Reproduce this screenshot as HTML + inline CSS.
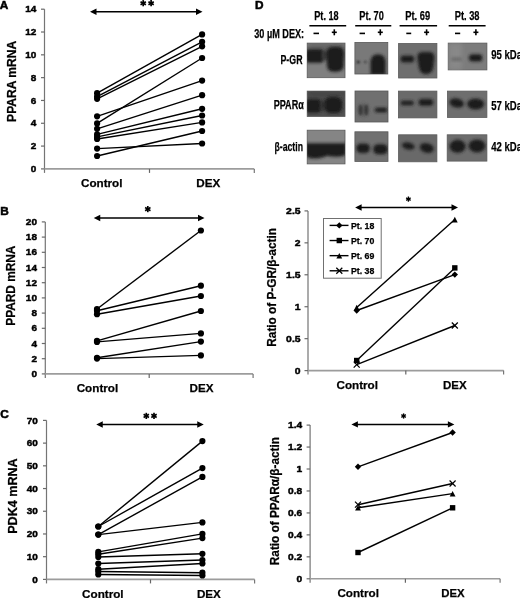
<!DOCTYPE html>
<html><head><meta charset="utf-8"><style>
html,body{margin:0;padding:0;background:#fff;}
svg{display:block;}
text{font-family:"Liberation Sans", sans-serif;fill:#000;stroke:#000;stroke-width:0.25px;}
</style></head><body>
<svg width="520" height="598" viewBox="0 0 520 598">
<defs><filter id="bl" x="-50%" y="-50%" width="200%" height="200%"><feGaussianBlur stdDeviation="1.5"/></filter><filter id="bl1" x="-50%" y="-50%" width="200%" height="200%"><feGaussianBlur stdDeviation="0.8"/></filter><filter id="bl2" x="-50%" y="-50%" width="200%" height="200%"><feGaussianBlur stdDeviation="2.5"/></filter><filter id="gb" x="0" y="0" width="100%" height="100%"><feGaussianBlur stdDeviation="0.45"/></filter></defs>
<rect width="520" height="598" fill="#fff"/>
<g filter="url(#gb)">
<text x="-0.3" y="9.0" font-size="11.8" font-weight="bold" text-anchor="start" style="stroke-width:0.55px">A</text>
<line x1="44.5" y1="9.2" x2="44.5" y2="172.9" stroke="#747474" stroke-width="1.2" />
<line x1="41.0" y1="168.9" x2="44.5" y2="168.9" stroke="#6a6a6a" stroke-width="1.2" />
<text x="36.4" y="172.0" font-size="9.5" font-weight="bold" text-anchor="end" textLength="5.56" lengthAdjust="spacingAndGlyphs" style="stroke-width:0.45px">0</text>
<line x1="41.0" y1="146.0857142857143" x2="44.5" y2="146.0857142857143" stroke="#6a6a6a" stroke-width="1.2" />
<text x="36.4" y="149.19" font-size="9.5" font-weight="bold" text-anchor="end" textLength="5.56" lengthAdjust="spacingAndGlyphs" style="stroke-width:0.45px">2</text>
<line x1="41.0" y1="123.27142857142857" x2="44.5" y2="123.27142857142857" stroke="#6a6a6a" stroke-width="1.2" />
<text x="36.4" y="126.37" font-size="9.5" font-weight="bold" text-anchor="end" textLength="5.56" lengthAdjust="spacingAndGlyphs" style="stroke-width:0.45px">4</text>
<line x1="41.0" y1="100.45714285714286" x2="44.5" y2="100.45714285714286" stroke="#6a6a6a" stroke-width="1.2" />
<text x="36.4" y="103.56" font-size="9.5" font-weight="bold" text-anchor="end" textLength="5.56" lengthAdjust="spacingAndGlyphs" style="stroke-width:0.45px">6</text>
<line x1="41.0" y1="77.64285714285714" x2="44.5" y2="77.64285714285714" stroke="#6a6a6a" stroke-width="1.2" />
<text x="36.4" y="80.74" font-size="9.5" font-weight="bold" text-anchor="end" textLength="5.56" lengthAdjust="spacingAndGlyphs" style="stroke-width:0.45px">8</text>
<line x1="41.0" y1="54.82857142857142" x2="44.5" y2="54.82857142857142" stroke="#6a6a6a" stroke-width="1.2" />
<text x="36.4" y="57.93" font-size="9.5" font-weight="bold" text-anchor="end" textLength="11.12" lengthAdjust="spacingAndGlyphs" style="stroke-width:0.45px">10</text>
<line x1="41.0" y1="32.014285714285705" x2="44.5" y2="32.014285714285705" stroke="#6a6a6a" stroke-width="1.2" />
<text x="36.4" y="35.11" font-size="9.5" font-weight="bold" text-anchor="end" textLength="11.12" lengthAdjust="spacingAndGlyphs" style="stroke-width:0.45px">12</text>
<line x1="41.0" y1="9.199999999999989" x2="44.5" y2="9.199999999999989" stroke="#6a6a6a" stroke-width="1.2" />
<text x="36.4" y="12.3" font-size="9.5" font-weight="bold" text-anchor="end" textLength="11.12" lengthAdjust="spacingAndGlyphs" style="stroke-width:0.45px">14</text>
<line x1="44.5" y1="168.9" x2="254.3" y2="168.9" stroke="#9c9c9c" stroke-width="1.6" />
<line x1="149.5" y1="168.9" x2="149.5" y2="172.9" stroke="#666" stroke-width="1.2" />
<line x1="254.3" y1="168.9" x2="254.3" y2="172.9" stroke="#777" stroke-width="1.2" />
<text transform="translate(16.3,81.4) rotate(-90)" x="0" y="0" font-size="12" font-weight="bold" text-anchor="middle" textLength="81" lengthAdjust="spacingAndGlyphs">PPARA mRNA</text>
<text x="81" y="186.6" font-size="11.8" font-weight="bold" text-anchor="start" textLength="41.5" lengthAdjust="spacingAndGlyphs" >Control</text>
<text x="196.3" y="187" font-size="11.8" font-weight="bold" text-anchor="start" textLength="24" lengthAdjust="spacingAndGlyphs" >DEX</text>
<line x1="95.5" y1="11.75" x2="197.0" y2="11.75" stroke="#000" stroke-width="1.5" />
<path d="M90,11.75 L96.5,8.55 L96.5,14.95 Z" fill="#000"/>
<path d="M202.5,11.75 L196.0,8.55 L196.0,14.95 Z" fill="#000"/>
<line x1="143.2" y1="0.1" x2="143.2" y2="6.3" stroke="#000" stroke-width="1.7" />
<line x1="140.52" y1="1.65" x2="145.88" y2="4.75" stroke="#000" stroke-width="1.7" />
<line x1="140.52" y1="4.75" x2="145.88" y2="1.65" stroke="#000" stroke-width="1.7" />
<line x1="151.1" y1="0.1" x2="151.1" y2="6.3" stroke="#000" stroke-width="1.7" />
<line x1="148.42" y1="1.65" x2="153.78" y2="4.75" stroke="#000" stroke-width="1.7" />
<line x1="148.42" y1="4.75" x2="153.78" y2="1.65" stroke="#000" stroke-width="1.7" />
<line x1="97.1" y1="93.2" x2="202.1" y2="34.4" stroke="#000" stroke-width="1.4" />
<line x1="97.1" y1="96.6" x2="202.1" y2="41.8" stroke="#000" stroke-width="1.4" />
<line x1="97.1" y1="98.8" x2="202.1" y2="46.3" stroke="#000" stroke-width="1.4" />
<line x1="97.1" y1="116.3" x2="202.1" y2="80.6" stroke="#000" stroke-width="1.4" />
<line x1="97.1" y1="123.4" x2="202.1" y2="58.0" stroke="#000" stroke-width="1.4" />
<line x1="97.1" y1="128.8" x2="202.1" y2="95.2" stroke="#000" stroke-width="1.4" />
<line x1="97.1" y1="134.4" x2="202.1" y2="108.8" stroke="#000" stroke-width="1.4" />
<line x1="97.1" y1="136.9" x2="202.1" y2="115.5" stroke="#000" stroke-width="1.4" />
<line x1="97.1" y1="139" x2="202.1" y2="122.4" stroke="#000" stroke-width="1.4" />
<line x1="97.1" y1="148.6" x2="202.1" y2="143.5" stroke="#000" stroke-width="1.4" />
<line x1="97.1" y1="156" x2="202.1" y2="131" stroke="#000" stroke-width="1.4" />
<circle cx="97.1" cy="93.2" r="3.1" fill="#000"/>
<circle cx="202.1" cy="34.4" r="3.1" fill="#000"/>
<circle cx="97.1" cy="96.6" r="3.1" fill="#000"/>
<circle cx="202.1" cy="41.8" r="3.1" fill="#000"/>
<circle cx="97.1" cy="98.8" r="3.1" fill="#000"/>
<circle cx="202.1" cy="46.3" r="3.1" fill="#000"/>
<circle cx="97.1" cy="116.3" r="3.1" fill="#000"/>
<circle cx="202.1" cy="80.6" r="3.1" fill="#000"/>
<circle cx="97.1" cy="123.4" r="3.1" fill="#000"/>
<circle cx="202.1" cy="58.0" r="3.1" fill="#000"/>
<circle cx="97.1" cy="128.8" r="3.1" fill="#000"/>
<circle cx="202.1" cy="95.2" r="3.1" fill="#000"/>
<circle cx="97.1" cy="134.4" r="3.1" fill="#000"/>
<circle cx="202.1" cy="108.8" r="3.1" fill="#000"/>
<circle cx="97.1" cy="136.9" r="3.1" fill="#000"/>
<circle cx="202.1" cy="115.5" r="3.1" fill="#000"/>
<circle cx="97.1" cy="139" r="3.1" fill="#000"/>
<circle cx="202.1" cy="122.4" r="3.1" fill="#000"/>
<circle cx="97.1" cy="148.6" r="3.1" fill="#000"/>
<circle cx="202.1" cy="143.5" r="3.1" fill="#000"/>
<circle cx="97.1" cy="156" r="3.1" fill="#000"/>
<circle cx="202.1" cy="131" r="3.1" fill="#000"/>
<text x="0.2" y="214.6" font-size="11.8" font-weight="bold" text-anchor="start" style="stroke-width:0.55px">B</text>
<line x1="45.3" y1="221.9" x2="45.3" y2="377.9" stroke="#747474" stroke-width="1.2" />
<line x1="41.8" y1="373.9" x2="45.3" y2="373.9" stroke="#6a6a6a" stroke-width="1.2" />
<text x="37.0" y="377.0" font-size="9.5" font-weight="bold" text-anchor="end" textLength="5.56" lengthAdjust="spacingAndGlyphs" style="stroke-width:0.45px">0</text>
<line x1="41.8" y1="358.7" x2="45.3" y2="358.7" stroke="#6a6a6a" stroke-width="1.2" />
<text x="37.0" y="361.8" font-size="9.5" font-weight="bold" text-anchor="end" textLength="5.56" lengthAdjust="spacingAndGlyphs" style="stroke-width:0.45px">2</text>
<line x1="41.8" y1="343.5" x2="45.3" y2="343.5" stroke="#6a6a6a" stroke-width="1.2" />
<text x="37.0" y="346.6" font-size="9.5" font-weight="bold" text-anchor="end" textLength="5.56" lengthAdjust="spacingAndGlyphs" style="stroke-width:0.45px">4</text>
<line x1="41.8" y1="328.29999999999995" x2="45.3" y2="328.29999999999995" stroke="#6a6a6a" stroke-width="1.2" />
<text x="37.0" y="331.4" font-size="9.5" font-weight="bold" text-anchor="end" textLength="5.56" lengthAdjust="spacingAndGlyphs" style="stroke-width:0.45px">6</text>
<line x1="41.8" y1="313.09999999999997" x2="45.3" y2="313.09999999999997" stroke="#6a6a6a" stroke-width="1.2" />
<text x="37.0" y="316.2" font-size="9.5" font-weight="bold" text-anchor="end" textLength="5.56" lengthAdjust="spacingAndGlyphs" style="stroke-width:0.45px">8</text>
<line x1="41.8" y1="297.9" x2="45.3" y2="297.9" stroke="#6a6a6a" stroke-width="1.2" />
<text x="37.0" y="301.0" font-size="9.5" font-weight="bold" text-anchor="end" textLength="11.12" lengthAdjust="spacingAndGlyphs" style="stroke-width:0.45px">10</text>
<line x1="41.8" y1="282.7" x2="45.3" y2="282.7" stroke="#6a6a6a" stroke-width="1.2" />
<text x="37.0" y="285.8" font-size="9.5" font-weight="bold" text-anchor="end" textLength="11.12" lengthAdjust="spacingAndGlyphs" style="stroke-width:0.45px">12</text>
<line x1="41.8" y1="267.5" x2="45.3" y2="267.5" stroke="#6a6a6a" stroke-width="1.2" />
<text x="37.0" y="270.6" font-size="9.5" font-weight="bold" text-anchor="end" textLength="11.12" lengthAdjust="spacingAndGlyphs" style="stroke-width:0.45px">14</text>
<line x1="41.8" y1="252.3" x2="45.3" y2="252.3" stroke="#6a6a6a" stroke-width="1.2" />
<text x="37.0" y="255.4" font-size="9.5" font-weight="bold" text-anchor="end" textLength="11.12" lengthAdjust="spacingAndGlyphs" style="stroke-width:0.45px">16</text>
<line x1="41.8" y1="237.1" x2="45.3" y2="237.1" stroke="#6a6a6a" stroke-width="1.2" />
<text x="37.0" y="240.2" font-size="9.5" font-weight="bold" text-anchor="end" textLength="11.12" lengthAdjust="spacingAndGlyphs" style="stroke-width:0.45px">18</text>
<line x1="41.8" y1="221.9" x2="45.3" y2="221.9" stroke="#6a6a6a" stroke-width="1.2" />
<text x="37.0" y="225.0" font-size="9.5" font-weight="bold" text-anchor="end" textLength="11.12" lengthAdjust="spacingAndGlyphs" style="stroke-width:0.45px">20</text>
<line x1="45.3" y1="373.9" x2="253.1" y2="373.9" stroke="#9c9c9c" stroke-width="1.6" />
<line x1="149.2" y1="373.9" x2="149.2" y2="377.9" stroke="#666" stroke-width="1.2" />
<line x1="253.1" y1="373.9" x2="253.1" y2="377.9" stroke="#777" stroke-width="1.2" />
<text transform="translate(15.2,285.7) rotate(-90)" x="0" y="0" font-size="12" font-weight="bold" text-anchor="middle" textLength="80" lengthAdjust="spacingAndGlyphs">PPARD mRNA</text>
<text x="76.7" y="392.1" font-size="11.8" font-weight="bold" text-anchor="start" textLength="41.5" lengthAdjust="spacingAndGlyphs" >Control</text>
<text x="189.5" y="392.3" font-size="11.8" font-weight="bold" text-anchor="start" textLength="24" lengthAdjust="spacingAndGlyphs" >DEX</text>
<line x1="99.25" y1="218" x2="199.0" y2="218" stroke="#000" stroke-width="1.5" />
<path d="M93.75,218 L100.25,214.8 L100.25,221.2 Z" fill="#000"/>
<path d="M204.5,218 L198.0,214.8 L198.0,221.2 Z" fill="#000"/>
<line x1="147.8" y1="206.0" x2="147.8" y2="212.2" stroke="#000" stroke-width="1.7" />
<line x1="145.12" y1="207.55" x2="150.48" y2="210.65" stroke="#000" stroke-width="1.7" />
<line x1="145.12" y1="210.65" x2="150.48" y2="207.55" stroke="#000" stroke-width="1.7" />
<line x1="97.0" y1="309.0" x2="200.9" y2="230.5" stroke="#000" stroke-width="1.4" />
<line x1="97.0" y1="310.8" x2="200.9" y2="285.7" stroke="#000" stroke-width="1.4" />
<line x1="97.0" y1="314.2" x2="200.9" y2="296" stroke="#000" stroke-width="1.4" />
<line x1="97.0" y1="340.8" x2="200.9" y2="311" stroke="#000" stroke-width="1.4" />
<line x1="97.0" y1="341.9" x2="200.9" y2="333.4" stroke="#000" stroke-width="1.4" />
<line x1="97.0" y1="357.8" x2="200.9" y2="341.6" stroke="#000" stroke-width="1.4" />
<line x1="97.0" y1="358.6" x2="200.9" y2="355.4" stroke="#000" stroke-width="1.4" />
<circle cx="97.0" cy="309.0" r="3.1" fill="#000"/>
<circle cx="200.9" cy="230.5" r="3.1" fill="#000"/>
<circle cx="97.0" cy="310.8" r="3.1" fill="#000"/>
<circle cx="200.9" cy="285.7" r="3.1" fill="#000"/>
<circle cx="97.0" cy="314.2" r="3.1" fill="#000"/>
<circle cx="200.9" cy="296" r="3.1" fill="#000"/>
<circle cx="97.0" cy="340.8" r="3.1" fill="#000"/>
<circle cx="200.9" cy="311" r="3.1" fill="#000"/>
<circle cx="97.0" cy="341.9" r="3.1" fill="#000"/>
<circle cx="200.9" cy="333.4" r="3.1" fill="#000"/>
<circle cx="97.0" cy="357.8" r="3.1" fill="#000"/>
<circle cx="200.9" cy="341.6" r="3.1" fill="#000"/>
<circle cx="97.0" cy="358.6" r="3.1" fill="#000"/>
<circle cx="200.9" cy="355.4" r="3.1" fill="#000"/>
<text x="0.2" y="417.8" font-size="11.8" font-weight="bold" text-anchor="start" style="stroke-width:0.55px">C</text>
<line x1="46.5" y1="420.4" x2="46.5" y2="583.4" stroke="#747474" stroke-width="1.2" />
<line x1="43.0" y1="579.4" x2="46.5" y2="579.4" stroke="#6a6a6a" stroke-width="1.2" />
<text x="37.8" y="582.5" font-size="9.5" font-weight="bold" text-anchor="end" textLength="5.56" lengthAdjust="spacingAndGlyphs" style="stroke-width:0.45px">0</text>
<line x1="43.0" y1="556.6857142857143" x2="46.5" y2="556.6857142857143" stroke="#6a6a6a" stroke-width="1.2" />
<text x="37.8" y="559.79" font-size="9.5" font-weight="bold" text-anchor="end" textLength="11.12" lengthAdjust="spacingAndGlyphs" style="stroke-width:0.45px">10</text>
<line x1="43.0" y1="533.9714285714285" x2="46.5" y2="533.9714285714285" stroke="#6a6a6a" stroke-width="1.2" />
<text x="37.8" y="537.07" font-size="9.5" font-weight="bold" text-anchor="end" textLength="11.12" lengthAdjust="spacingAndGlyphs" style="stroke-width:0.45px">20</text>
<line x1="43.0" y1="511.25714285714287" x2="46.5" y2="511.25714285714287" stroke="#6a6a6a" stroke-width="1.2" />
<text x="37.8" y="514.36" font-size="9.5" font-weight="bold" text-anchor="end" textLength="11.12" lengthAdjust="spacingAndGlyphs" style="stroke-width:0.45px">30</text>
<line x1="43.0" y1="488.5428571428571" x2="46.5" y2="488.5428571428571" stroke="#6a6a6a" stroke-width="1.2" />
<text x="37.8" y="491.64" font-size="9.5" font-weight="bold" text-anchor="end" textLength="11.12" lengthAdjust="spacingAndGlyphs" style="stroke-width:0.45px">40</text>
<line x1="43.0" y1="465.8285714285714" x2="46.5" y2="465.8285714285714" stroke="#6a6a6a" stroke-width="1.2" />
<text x="37.8" y="468.93" font-size="9.5" font-weight="bold" text-anchor="end" textLength="11.12" lengthAdjust="spacingAndGlyphs" style="stroke-width:0.45px">50</text>
<line x1="43.0" y1="443.1142857142857" x2="46.5" y2="443.1142857142857" stroke="#6a6a6a" stroke-width="1.2" />
<text x="37.8" y="446.21" font-size="9.5" font-weight="bold" text-anchor="end" textLength="11.12" lengthAdjust="spacingAndGlyphs" style="stroke-width:0.45px">60</text>
<line x1="43.0" y1="420.4" x2="46.5" y2="420.4" stroke="#6a6a6a" stroke-width="1.2" />
<text x="37.8" y="423.5" font-size="9.5" font-weight="bold" text-anchor="end" textLength="11.12" lengthAdjust="spacingAndGlyphs" style="stroke-width:0.45px">70</text>
<line x1="46.5" y1="579.4" x2="254.6" y2="579.4" stroke="#9c9c9c" stroke-width="1.6" />
<line x1="150.5" y1="579.4" x2="150.5" y2="583.4" stroke="#666" stroke-width="1.2" />
<line x1="254.6" y1="579.4" x2="254.6" y2="583.4" stroke="#777" stroke-width="1.2" />
<text transform="translate(17.0,496.1) rotate(-90)" x="0" y="0" font-size="12" font-weight="bold" text-anchor="middle" textLength="75.4" lengthAdjust="spacingAndGlyphs">PDK4 mRNA</text>
<text x="82.1" y="598" font-size="11.8" font-weight="bold" text-anchor="start" textLength="41.5" lengthAdjust="spacingAndGlyphs" >Control</text>
<text x="196.9" y="598" font-size="11.8" font-weight="bold" text-anchor="start" textLength="24" lengthAdjust="spacingAndGlyphs" >DEX</text>
<line x1="101.75" y1="424.5" x2="198.25" y2="424.5" stroke="#000" stroke-width="1.5" />
<path d="M96.25,424.5 L102.75,421.3 L102.75,427.7 Z" fill="#000"/>
<path d="M203.75,424.5 L197.25,421.3 L197.25,427.7 Z" fill="#000"/>
<line x1="146.3" y1="412.8" x2="146.3" y2="419.0" stroke="#000" stroke-width="1.7" />
<line x1="143.62" y1="414.35" x2="148.98" y2="417.45" stroke="#000" stroke-width="1.7" />
<line x1="143.62" y1="417.45" x2="148.98" y2="414.35" stroke="#000" stroke-width="1.7" />
<line x1="154.0" y1="412.8" x2="154.0" y2="419.0" stroke="#000" stroke-width="1.7" />
<line x1="151.32" y1="414.35" x2="156.68" y2="417.45" stroke="#000" stroke-width="1.7" />
<line x1="151.32" y1="417.45" x2="156.68" y2="414.35" stroke="#000" stroke-width="1.7" />
<line x1="98.3" y1="526.5" x2="202.4" y2="441.1" stroke="#000" stroke-width="1.4" />
<line x1="98.3" y1="526.5" x2="202.4" y2="468.1" stroke="#000" stroke-width="1.4" />
<line x1="98.3" y1="534.6" x2="202.4" y2="476.9" stroke="#000" stroke-width="1.4" />
<line x1="98.3" y1="534.6" x2="202.4" y2="522.4" stroke="#000" stroke-width="1.4" />
<line x1="98.3" y1="551.9" x2="202.4" y2="533.9" stroke="#000" stroke-width="1.4" />
<line x1="98.3" y1="554.2" x2="202.4" y2="538.1" stroke="#000" stroke-width="1.4" />
<line x1="98.3" y1="557" x2="202.4" y2="553.8" stroke="#000" stroke-width="1.4" />
<line x1="98.3" y1="563.5" x2="202.4" y2="560" stroke="#000" stroke-width="1.4" />
<line x1="98.3" y1="569.2" x2="202.4" y2="563.5" stroke="#000" stroke-width="1.4" />
<line x1="98.3" y1="571.5" x2="202.4" y2="572.7" stroke="#000" stroke-width="1.4" />
<line x1="98.3" y1="574.5" x2="202.4" y2="575.5" stroke="#000" stroke-width="1.4" />
<circle cx="98.3" cy="526.5" r="3.1" fill="#000"/>
<circle cx="202.4" cy="441.1" r="3.1" fill="#000"/>
<circle cx="98.3" cy="526.5" r="3.1" fill="#000"/>
<circle cx="202.4" cy="468.1" r="3.1" fill="#000"/>
<circle cx="98.3" cy="534.6" r="3.1" fill="#000"/>
<circle cx="202.4" cy="476.9" r="3.1" fill="#000"/>
<circle cx="98.3" cy="534.6" r="3.1" fill="#000"/>
<circle cx="202.4" cy="522.4" r="3.1" fill="#000"/>
<circle cx="98.3" cy="551.9" r="3.1" fill="#000"/>
<circle cx="202.4" cy="533.9" r="3.1" fill="#000"/>
<circle cx="98.3" cy="554.2" r="3.1" fill="#000"/>
<circle cx="202.4" cy="538.1" r="3.1" fill="#000"/>
<circle cx="98.3" cy="557" r="3.1" fill="#000"/>
<circle cx="202.4" cy="553.8" r="3.1" fill="#000"/>
<circle cx="98.3" cy="563.5" r="3.1" fill="#000"/>
<circle cx="202.4" cy="560" r="3.1" fill="#000"/>
<circle cx="98.3" cy="569.2" r="3.1" fill="#000"/>
<circle cx="202.4" cy="563.5" r="3.1" fill="#000"/>
<circle cx="98.3" cy="571.5" r="3.1" fill="#000"/>
<circle cx="202.4" cy="572.7" r="3.1" fill="#000"/>
<circle cx="98.3" cy="574.5" r="3.1" fill="#000"/>
<circle cx="202.4" cy="575.5" r="3.1" fill="#000"/>
<text x="255.0" y="9.4" font-size="11.8" font-weight="bold" text-anchor="start" style="stroke-width:0.55px">D</text>
<text x="254.3" y="37.6" font-size="12.9" font-weight="bold" text-anchor="start" textLength="49.8" lengthAdjust="spacingAndGlyphs" >30 µM DEX:</text>
<text x="314.3" y="20.3" font-size="13.5" font-weight="bold" text-anchor="start" textLength="24.3" lengthAdjust="spacingAndGlyphs" >Pt. 18</text>
<line x1="309.4" y1="25.7" x2="346.2" y2="25.7" stroke="#000" stroke-width="1.6" />
<line x1="313.5" y1="33.4" x2="319" y2="33.4" stroke="#000" stroke-width="1.6" />
<line x1="331.8" y1="32.3" x2="336.8" y2="32.3" stroke="#000" stroke-width="1.6" />
<line x1="334.3" y1="29.3" x2="334.3" y2="35.3" stroke="#000" stroke-width="1.6" />
<text x="359.3" y="20.3" font-size="13.5" font-weight="bold" text-anchor="start" textLength="24.5" lengthAdjust="spacingAndGlyphs" >Pt. 70</text>
<line x1="355.2" y1="25.7" x2="391.3" y2="25.7" stroke="#000" stroke-width="1.6" />
<line x1="359.6" y1="33.4" x2="365" y2="33.4" stroke="#000" stroke-width="1.6" />
<line x1="377.8" y1="32.3" x2="382.8" y2="32.3" stroke="#000" stroke-width="1.6" />
<line x1="380.3" y1="29.3" x2="380.3" y2="35.3" stroke="#000" stroke-width="1.6" />
<text x="405.3" y="20.3" font-size="13.5" font-weight="bold" text-anchor="start" textLength="24.8" lengthAdjust="spacingAndGlyphs" >Pt. 69</text>
<line x1="399.6" y1="25.7" x2="437.1" y2="25.7" stroke="#000" stroke-width="1.6" />
<line x1="406.3" y1="33.4" x2="411.2" y2="33.4" stroke="#000" stroke-width="1.6" />
<line x1="424.1" y1="32.3" x2="429.1" y2="32.3" stroke="#000" stroke-width="1.6" />
<line x1="426.6" y1="29.3" x2="426.6" y2="35.3" stroke="#000" stroke-width="1.6" />
<text x="454.7" y="20.3" font-size="13.5" font-weight="bold" text-anchor="start" textLength="24.8" lengthAdjust="spacingAndGlyphs" >Pt. 38</text>
<line x1="448.7" y1="25.7" x2="485.6" y2="25.7" stroke="#000" stroke-width="1.6" />
<line x1="455" y1="33.4" x2="460.2" y2="33.4" stroke="#000" stroke-width="1.6" />
<line x1="473.4" y1="32.3" x2="478.4" y2="32.3" stroke="#000" stroke-width="1.6" />
<line x1="475.9" y1="29.3" x2="475.9" y2="35.3" stroke="#000" stroke-width="1.6" />
<text x="280.5" y="63.7" font-size="13.5" font-weight="bold" text-anchor="start" textLength="22.0" lengthAdjust="spacingAndGlyphs" >P-GR</text>
<text x="273.7" y="109.4" font-size="13.5" font-weight="bold" text-anchor="start" textLength="30.1" lengthAdjust="spacingAndGlyphs" >PPARα</text>
<text x="274.5" y="151.1" font-size="13.5" font-weight="bold" text-anchor="start" textLength="28.5" lengthAdjust="spacingAndGlyphs" >β-actin</text>
<text x="491.2" y="59.3" font-size="13.6" font-weight="bold" text-anchor="start" textLength="30.8" lengthAdjust="spacingAndGlyphs" >95 kDa</text>
<text x="491.2" y="109.5" font-size="13.6" font-weight="bold" text-anchor="start" textLength="30.8" lengthAdjust="spacingAndGlyphs" >57 kDa</text>
<text x="491.2" y="151.3" font-size="13.6" font-weight="bold" text-anchor="start" textLength="30.8" lengthAdjust="spacingAndGlyphs" >42 kDa</text>
<rect x="307.2" y="43.1" width="37.8" height="34.6" fill="#808080" stroke="#5a5a5a" stroke-width="0.8"/>
<clipPath id="cp1"><rect x="307.2" y="43.1" width="37.8" height="34.6"/></clipPath><g clip-path="url(#cp1)">
<rect x="307.2" y="43.1" width="37.8" height="14" fill="#636363" filter="url(#bl2)"/>
<rect x="305" y="49.3" width="19" height="13.4" rx="4" fill="#1e1e1e" opacity="1" filter="url(#bl)"/>
<rect x="322" y="51" width="6" height="9" rx="2" fill="#3a3a3a" opacity="1" filter="url(#bl)"/>
<path d="M326.2,54 Q326.2,46.7 333,46.7 L338,46.7 Q344.2,46.7 344.2,54 L343.7,66 Q343.2,71.7 337,71.7 L333,71.7 Q327.3,71.7 327,66 Z" fill="#1e1e1e" opacity="1" filter="url(#bl)"/>
</g>
<rect x="354.9" y="42.4" width="32.9" height="31.6" fill="#797979" stroke="#5a5a5a" stroke-width="0.8"/>
<clipPath id="cp2"><rect x="354.9" y="42.4" width="32.9" height="31.6"/></clipPath><g clip-path="url(#cp2)">
<ellipse cx="358.3" cy="62.1" rx="1.8" ry="1.5" fill="#2a2a2a" opacity="0.9" filter="url(#bl1)"/>
<ellipse cx="365.4" cy="62" rx="1.6" ry="1.3" fill="#2a2a2a" opacity="0.6" filter="url(#bl1)"/>
<path d="M370.6,75 L370.4,63 Q370.4,54.3 378,54.3 Q385.8,54.3 385.6,63 L385.4,75 Z" fill="#1e1e1e" opacity="1" filter="url(#bl)"/>
</g>
<rect x="398.6" y="43.5" width="38.3" height="34.5" fill="#6e6e6e" stroke="#5a5a5a" stroke-width="0.8"/>
<clipPath id="cp3"><rect x="398.6" y="43.5" width="38.3" height="34.5"/></clipPath><g clip-path="url(#cp3)">
<rect x="400.6" y="55.6" width="13.6" height="6.8" rx="3.2" fill="#1e1e1e" opacity="1" filter="url(#bl)"/>
<path d="M417.2,57.5 Q417.2,52 422.5,52 L429.5,52 Q434.5,52 434.5,57.5 L433.4,67 Q432.5,74.3 426,74.3 Q419.6,74.3 418.8,67 Z" fill="#1e1e1e" opacity="1" filter="url(#bl)"/>
</g>
<rect x="448.2" y="43.1" width="38.7" height="26.8" fill="#7b7b7b" stroke="#5a5a5a" stroke-width="0.8"/>
<clipPath id="cp4"><rect x="448.2" y="43.1" width="38.7" height="26.8"/></clipPath><g clip-path="url(#cp4)">
<rect x="448.2" y="43.1" width="14" height="26.8" fill="#888" filter="url(#bl2)"/>
<rect x="451" y="57.4" width="11" height="3.6" rx="1.8" fill="#555" opacity="0.55" filter="url(#bl)"/>
<rect x="469" y="54.2" width="13.3" height="7.3" rx="3.2" fill="#1e1e1e" opacity="1" filter="url(#bl)"/>
</g>
<rect x="307.2" y="91.1" width="37.8" height="25.4" fill="#515151" stroke="#5a5a5a" stroke-width="0.8"/>
<clipPath id="cp5"><rect x="307.2" y="91.1" width="37.8" height="25.4"/></clipPath><g clip-path="url(#cp5)">
<rect x="307.2" y="91.1" width="37.8" height="6" fill="#444" filter="url(#bl2)"/>
<rect x="305" y="99" width="16.8" height="13.7" rx="4.5" fill="#1e1e1e" opacity="1" filter="url(#bl)"/>
<rect x="320" y="101" width="6" height="9" rx="2" fill="#333" opacity="1" filter="url(#bl)"/>
<rect x="324.2" y="96.7" width="18.3" height="16.6" rx="6.5" fill="#1e1e1e" opacity="1" filter="url(#bl)"/>
</g>
<rect x="355" y="91" width="33" height="31" fill="#6f6f6f" stroke="#5a5a5a" stroke-width="0.8"/>
<clipPath id="cp6"><rect x="355" y="91" width="33" height="31"/></clipPath><g clip-path="url(#cp6)">
<ellipse cx="363.5" cy="110" rx="5.5" ry="6.5" fill="#555" opacity="0.6" filter="url(#bl)"/>
<ellipse cx="360.6" cy="110" rx="2.0" ry="5.5" fill="#333" opacity="0.85" filter="url(#bl1)"/>
<ellipse cx="366.2" cy="110" rx="2.0" ry="5.5" fill="#333" opacity="0.85" filter="url(#bl1)"/>
<rect x="374.8" y="107.8" width="12.6" height="4.5" rx="2" fill="#1e1e1e" opacity="1" filter="url(#bl)"/>
</g>
<rect x="398.4" y="91.1" width="38.5" height="26.8" fill="#6a6a6a" stroke="#5a5a5a" stroke-width="0.8"/>
<clipPath id="cp7"><rect x="398.4" y="91.1" width="38.5" height="26.8"/></clipPath><g clip-path="url(#cp7)">
<rect x="400.6" y="100.8" width="13.2" height="4.5" rx="2.2" fill="#1e1e1e" opacity="1" filter="url(#bl)"/>
<rect x="418.6" y="99" width="14.6" height="6.8" rx="3.2" fill="#1e1e1e" opacity="1" filter="url(#bl)"/>
</g>
<rect x="447.5" y="91.1" width="39.4" height="26.3" fill="#6e6e6e" stroke="#5a5a5a" stroke-width="0.8"/>
<clipPath id="cp8"><rect x="447.5" y="91.1" width="39.4" height="26.3"/></clipPath><g clip-path="url(#cp8)">
<ellipse cx="456.7" cy="103" rx="7.4" ry="4.6" fill="#1e1e1e" opacity="1" filter="url(#bl)" transform="rotate(12,456.7,103)"/>
<ellipse cx="475.6" cy="104" rx="8.6" ry="5.6" fill="#1e1e1e" opacity="1" filter="url(#bl)"/>
</g>
<rect x="307.2" y="130.2" width="37.8" height="33.7" fill="#858585" stroke="#5a5a5a" stroke-width="0.8"/>
<clipPath id="cp9"><rect x="307.2" y="130.2" width="37.8" height="33.7"/></clipPath><g clip-path="url(#cp9)">
<path d="M305,143.2 L346,143.2 L346,153 Q346,156.8 338,156.8 Q330,156.8 327,155.8 Q322,158.6 314,158.6 Q305,158.6 305,153 Z" fill="#1e1e1e" opacity="1" filter="url(#bl)"/>
</g>
<rect x="354.9" y="131.8" width="33.1" height="29.7" fill="#707070" stroke="#5a5a5a" stroke-width="0.8"/>
<clipPath id="cp10"><rect x="354.9" y="131.8" width="33.1" height="29.7"/></clipPath><g clip-path="url(#cp10)">
<rect x="356.3" y="143.4" width="13.7" height="9.7" rx="4.6" fill="#1e1e1e" opacity="1" filter="url(#bl)"/>
<rect x="373.2" y="144.2" width="14.6" height="10.1" rx="4.8" fill="#1e1e1e" opacity="1" filter="url(#bl)"/>
</g>
<rect x="398.6" y="134.8" width="38.3" height="27.0" fill="#696969" stroke="#5a5a5a" stroke-width="0.8"/>
<clipPath id="cp11"><rect x="398.6" y="134.8" width="38.3" height="27.0"/></clipPath><g clip-path="url(#cp11)">
<ellipse cx="408.3" cy="146" rx="6.6" ry="3.5" fill="#1e1e1e" opacity="1" filter="url(#bl)" transform="rotate(12,408.3,146)"/>
<ellipse cx="426.8" cy="148" rx="7.2" ry="4.8" fill="#1e1e1e" opacity="1" filter="url(#bl)" transform="rotate(14,426.8,148)"/>
</g>
<rect x="447.2" y="134.8" width="39.7" height="26.3" fill="#6d6d6d" stroke="#5a5a5a" stroke-width="0.8"/>
<clipPath id="cp12"><rect x="447.2" y="134.8" width="39.7" height="26.3"/></clipPath><g clip-path="url(#cp12)">
<ellipse cx="457.6" cy="146.3" rx="8.1" ry="6.5" fill="#1e1e1e" opacity="1" filter="url(#bl)"/>
<ellipse cx="477" cy="145.9" rx="8.6" ry="6.5" fill="#1e1e1e" opacity="1" filter="url(#bl)"/>
</g>
<line x1="308" y1="210.9" x2="308" y2="374.6" stroke="#747474" stroke-width="1.2" />
<line x1="304.5" y1="370.6" x2="308" y2="370.6" stroke="#6a6a6a" stroke-width="1.2" />
<text x="300.6" y="373.7" font-size="9.88" font-weight="bold" text-anchor="end" textLength="5.78" lengthAdjust="spacingAndGlyphs" style="stroke-width:0.45px">0</text>
<line x1="304.5" y1="338.66" x2="308" y2="338.66" stroke="#6a6a6a" stroke-width="1.2" />
<text x="300.6" y="341.76" font-size="9.88" font-weight="bold" text-anchor="end" textLength="14.46" lengthAdjust="spacingAndGlyphs" style="stroke-width:0.45px">0.5</text>
<line x1="304.5" y1="306.72" x2="308" y2="306.72" stroke="#6a6a6a" stroke-width="1.2" />
<text x="300.6" y="309.82" font-size="9.88" font-weight="bold" text-anchor="end" textLength="5.78" lengthAdjust="spacingAndGlyphs" style="stroke-width:0.45px">1</text>
<line x1="304.5" y1="274.78000000000003" x2="308" y2="274.78000000000003" stroke="#6a6a6a" stroke-width="1.2" />
<text x="300.6" y="277.88" font-size="9.88" font-weight="bold" text-anchor="end" textLength="14.46" lengthAdjust="spacingAndGlyphs" style="stroke-width:0.45px">1.5</text>
<line x1="304.5" y1="242.84" x2="308" y2="242.84" stroke="#6a6a6a" stroke-width="1.2" />
<text x="300.6" y="245.94" font-size="9.88" font-weight="bold" text-anchor="end" textLength="5.78" lengthAdjust="spacingAndGlyphs" style="stroke-width:0.45px">2</text>
<line x1="304.5" y1="210.9" x2="308" y2="210.9" stroke="#6a6a6a" stroke-width="1.2" />
<text x="300.6" y="214.0" font-size="9.88" font-weight="bold" text-anchor="end" textLength="14.46" lengthAdjust="spacingAndGlyphs" style="stroke-width:0.45px">2.5</text>
<line x1="308" y1="370.6" x2="503.6" y2="370.6" stroke="#9c9c9c" stroke-width="1.6" />
<line x1="405.8" y1="370.6" x2="405.8" y2="374.6" stroke="#666" stroke-width="1.2" />
<line x1="503.6" y1="370.6" x2="503.6" y2="374.6" stroke="#777" stroke-width="1.2" />
<text transform="translate(275.8,287.4) rotate(-90)" x="0" y="0" font-size="12" font-weight="bold" text-anchor="middle" textLength="118.5" lengthAdjust="spacingAndGlyphs">Ratio of P-GR/β-actin</text>
<text x="336.5" y="389.2" font-size="11.8" font-weight="bold" text-anchor="start" textLength="41.5" lengthAdjust="spacingAndGlyphs" >Control</text>
<text x="443" y="388.7" font-size="11.8" font-weight="bold" text-anchor="start" textLength="23.7" lengthAdjust="spacingAndGlyphs" >DEX</text>
<line x1="360.6" y1="207.5" x2="452.5" y2="207.5" stroke="#000" stroke-width="1.5" />
<path d="M355.1,207.5 L361.6,204.3 L361.6,210.7 Z" fill="#000"/>
<path d="M458,207.5 L451.5,204.3 L451.5,210.7 Z" fill="#000"/>
<line x1="408.4" y1="196.5" x2="408.4" y2="201.7" stroke="#000" stroke-width="1.35" />
<line x1="406.15" y1="197.8" x2="410.65" y2="200.4" stroke="#000" stroke-width="1.35" />
<line x1="406.15" y1="200.4" x2="410.65" y2="197.8" stroke="#000" stroke-width="1.35" />
<line x1="356.7" y1="310.5" x2="454.8" y2="274.6" stroke="#000" stroke-width="1.4" />
<line x1="356.7" y1="360.5" x2="454.8" y2="267.9" stroke="#000" stroke-width="1.4" />
<line x1="356.7" y1="307.5" x2="454.8" y2="219.5" stroke="#000" stroke-width="1.4" />
<line x1="356.7" y1="364.6" x2="454.8" y2="325.5" stroke="#000" stroke-width="1.4" />
<path d="M356.7,307.3 L359.9,310.5 L356.7,313.7 L353.5,310.5 Z" fill="#000"/>
<path d="M454.8,271.40000000000003 L458.0,274.6 L454.8,277.8 L451.6,274.6 Z" fill="#000"/>
<rect x="354.0" y="357.8" width="5.4" height="5.4" fill="#000"/>
<rect x="452.1" y="265.2" width="5.4" height="5.4" fill="#000"/>
<path d="M356.7,304.8 L359.59999999999997,310.4 L353.8,310.4 Z" fill="#000"/>
<path d="M454.8,216.8 L457.7,222.4 L451.90000000000003,222.4 Z" fill="#000"/>
<line x1="353.7" y1="361.6" x2="359.7" y2="367.6" stroke="#000" stroke-width="1.2" />
<line x1="353.7" y1="367.6" x2="359.7" y2="361.6" stroke="#000" stroke-width="1.2" />
<line x1="451.8" y1="322.5" x2="457.8" y2="328.5" stroke="#000" stroke-width="1.2" />
<line x1="451.8" y1="328.5" x2="457.8" y2="322.5" stroke="#000" stroke-width="1.2" />
<rect x="323.5" y="218.5" width="57.7" height="59.7" fill="#fff" stroke="#707070" stroke-width="1"/>
<line x1="329.6" y1="225.4" x2="348.5" y2="225.4" stroke="#000" stroke-width="1.4" />
<path d="M339.3,222.20000000000002 L342.5,225.4 L339.3,228.6 L336.1,225.4 Z" fill="#000"/>
<text x="350.9" y="228.9" font-size="9.2" font-weight="bold" text-anchor="start" textLength="23.4" lengthAdjust="spacingAndGlyphs" >Pt. 18</text>
<line x1="329.6" y1="240.53" x2="348.5" y2="240.53" stroke="#000" stroke-width="1.4" />
<rect x="336.6" y="237.83" width="5.4" height="5.4" fill="#000"/>
<text x="350.9" y="244.03" font-size="9.2" font-weight="bold" text-anchor="start" textLength="23.4" lengthAdjust="spacingAndGlyphs" >Pt. 70</text>
<line x1="329.6" y1="255.66" x2="348.5" y2="255.66" stroke="#000" stroke-width="1.4" />
<path d="M339.3,252.96 L342.2,258.56 L336.40000000000003,258.56 Z" fill="#000"/>
<text x="350.9" y="259.16" font-size="9.2" font-weight="bold" text-anchor="start" textLength="23.4" lengthAdjust="spacingAndGlyphs" >Pt. 69</text>
<line x1="329.6" y1="270.79" x2="348.5" y2="270.79" stroke="#000" stroke-width="1.4" />
<line x1="336.3" y1="267.79" x2="342.3" y2="273.79" stroke="#000" stroke-width="1.2" />
<line x1="336.3" y1="273.79" x2="342.3" y2="267.79" stroke="#000" stroke-width="1.2" />
<text x="350.9" y="274.29" font-size="9.2" font-weight="bold" text-anchor="start" textLength="23.4" lengthAdjust="spacingAndGlyphs" >Pt. 38</text>
<line x1="310.1" y1="425.1" x2="310.1" y2="582.8" stroke="#747474" stroke-width="1.2" />
<line x1="306.6" y1="578.8" x2="310.1" y2="578.8" stroke="#6a6a6a" stroke-width="1.2" />
<text x="302.3" y="581.9" font-size="9.69" font-weight="bold" text-anchor="end" textLength="5.67" lengthAdjust="spacingAndGlyphs" style="stroke-width:0.45px">0</text>
<line x1="306.6" y1="556.8428571428572" x2="310.1" y2="556.8428571428572" stroke="#6a6a6a" stroke-width="1.2" />
<text x="302.3" y="559.94" font-size="9.69" font-weight="bold" text-anchor="end" textLength="14.18" lengthAdjust="spacingAndGlyphs" style="stroke-width:0.45px">0.2</text>
<line x1="306.6" y1="534.8857142857142" x2="310.1" y2="534.8857142857142" stroke="#6a6a6a" stroke-width="1.2" />
<text x="302.3" y="537.99" font-size="9.69" font-weight="bold" text-anchor="end" textLength="14.18" lengthAdjust="spacingAndGlyphs" style="stroke-width:0.45px">0.4</text>
<line x1="306.6" y1="512.9285714285714" x2="310.1" y2="512.9285714285714" stroke="#6a6a6a" stroke-width="1.2" />
<text x="302.3" y="516.03" font-size="9.69" font-weight="bold" text-anchor="end" textLength="14.18" lengthAdjust="spacingAndGlyphs" style="stroke-width:0.45px">0.6</text>
<line x1="306.6" y1="490.97142857142853" x2="310.1" y2="490.97142857142853" stroke="#6a6a6a" stroke-width="1.2" />
<text x="302.3" y="494.07" font-size="9.69" font-weight="bold" text-anchor="end" textLength="14.18" lengthAdjust="spacingAndGlyphs" style="stroke-width:0.45px">0.8</text>
<line x1="306.6" y1="469.01428571428573" x2="310.1" y2="469.01428571428573" stroke="#6a6a6a" stroke-width="1.2" />
<text x="302.3" y="472.11" font-size="9.69" font-weight="bold" text-anchor="end" textLength="5.67" lengthAdjust="spacingAndGlyphs" style="stroke-width:0.45px">1</text>
<line x1="306.6" y1="447.0571428571429" x2="310.1" y2="447.0571428571429" stroke="#6a6a6a" stroke-width="1.2" />
<text x="302.3" y="450.16" font-size="9.69" font-weight="bold" text-anchor="end" textLength="14.18" lengthAdjust="spacingAndGlyphs" style="stroke-width:0.45px">1.2</text>
<line x1="306.6" y1="425.1" x2="310.1" y2="425.1" stroke="#6a6a6a" stroke-width="1.2" />
<text x="302.3" y="428.2" font-size="9.69" font-weight="bold" text-anchor="end" textLength="14.18" lengthAdjust="spacingAndGlyphs" style="stroke-width:0.45px">1.4</text>
<line x1="310.1" y1="578.8" x2="500.1" y2="578.8" stroke="#9c9c9c" stroke-width="1.6" />
<line x1="405.4" y1="578.8" x2="405.4" y2="582.8" stroke="#666" stroke-width="1.2" />
<line x1="500.1" y1="578.8" x2="500.1" y2="582.8" stroke="#777" stroke-width="1.2" />
<text transform="translate(279.2,501.1) rotate(-90)" x="0" y="0" font-size="12" font-weight="bold" text-anchor="middle" textLength="128.1" lengthAdjust="spacingAndGlyphs">Ratio of PPARα/β-actin</text>
<text x="337.4" y="596.9" font-size="11.8" font-weight="bold" text-anchor="start" textLength="41.5" lengthAdjust="spacingAndGlyphs" >Control</text>
<text x="441.2" y="596.7" font-size="11.8" font-weight="bold" text-anchor="start" textLength="23.4" lengthAdjust="spacingAndGlyphs" >DEX</text>
<line x1="356.9" y1="424.4" x2="448.9" y2="424.4" stroke="#000" stroke-width="1.5" />
<path d="M351.4,424.4 L357.9,421.2 L357.9,427.59999999999997 Z" fill="#000"/>
<path d="M454.4,424.4 L447.9,421.2 L447.9,427.59999999999997 Z" fill="#000"/>
<line x1="403.6" y1="413.4" x2="403.6" y2="418.6" stroke="#000" stroke-width="1.35" />
<line x1="401.35" y1="414.7" x2="405.85" y2="417.3" stroke="#000" stroke-width="1.35" />
<line x1="401.35" y1="417.3" x2="405.85" y2="414.7" stroke="#000" stroke-width="1.35" />
<line x1="358.0" y1="466.8" x2="452.6" y2="432.5" stroke="#000" stroke-width="1.4" />
<line x1="358.0" y1="552.5" x2="452.6" y2="507.8" stroke="#000" stroke-width="1.4" />
<line x1="358.0" y1="507.7" x2="452.6" y2="493.6" stroke="#000" stroke-width="1.4" />
<line x1="358.0" y1="504.7" x2="452.6" y2="483.5" stroke="#000" stroke-width="1.4" />
<path d="M358.0,463.6 L361.2,466.8 L358.0,470.0 L354.8,466.8 Z" fill="#000"/>
<path d="M452.6,429.3 L455.8,432.5 L452.6,435.7 L449.40000000000003,432.5 Z" fill="#000"/>
<rect x="355.3" y="549.8" width="5.4" height="5.4" fill="#000"/>
<rect x="449.90000000000003" y="505.1" width="5.4" height="5.4" fill="#000"/>
<path d="M358.0,505.0 L360.9,510.6 L355.1,510.6 Z" fill="#000"/>
<path d="M452.6,490.9 L455.5,496.5 L449.70000000000005,496.5 Z" fill="#000"/>
<line x1="355.0" y1="501.7" x2="361.0" y2="507.7" stroke="#000" stroke-width="1.2" />
<line x1="355.0" y1="507.7" x2="361.0" y2="501.7" stroke="#000" stroke-width="1.2" />
<line x1="449.6" y1="480.5" x2="455.6" y2="486.5" stroke="#000" stroke-width="1.2" />
<line x1="449.6" y1="486.5" x2="455.6" y2="480.5" stroke="#000" stroke-width="1.2" />
</g>
</svg>
</body></html>
